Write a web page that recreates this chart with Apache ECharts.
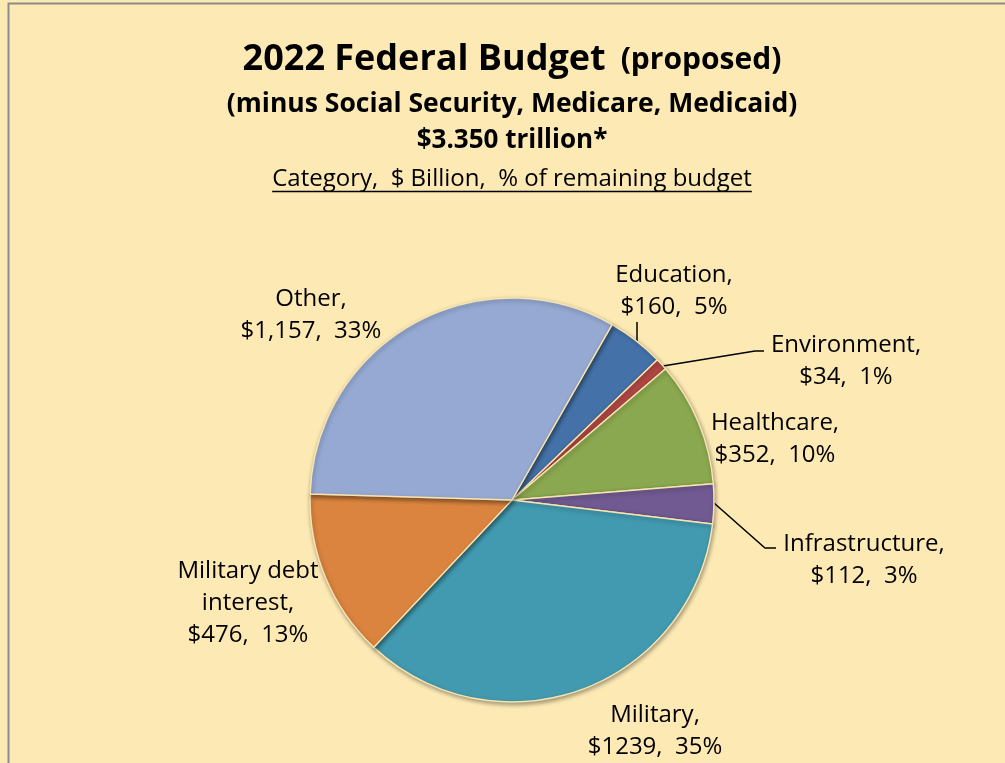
<!DOCTYPE html>
<html><head><meta charset="utf-8">
<script src="https://cdn.jsdelivr.net/npm/echarts@6/dist/echarts.min.js"></script>
<style>html,body{margin:0;padding:0;background:#FDE9B4;}#c{width:1005px;height:763px;}</style>
</head><body><div id="c"></div>
<script>
const categories = ["Education","Environment","Healthcare","Infrastructure","Military","Military debt interest","Other"];
const values = [160, 34, 352, 112, 1239, 476, 1157];
const valueText = ["$160","$34","$352","$112","$1239","$476","$1,157"];
const percents = [5, 1, 10, 3, 35, 13, 33];
const labelNames = ["Education","Environment","Healthcare","Infrastructure","Military","Military debt\ninterest","Other"];
const colors = ["#4472A8","#B04744","#8AA84F","#715A92","#429AB0","#DA843F","#95A9D3"];

const FONT = "Open Sans";
const labelPos = [
  {x:674,y:291,line:[[637,341],[637,332],[637,322]]},
  {x:846,y:361,line:[[663,366],[755,351],[764,351]]},
  {x:775,y:439},
  {x:864,y:560,line:[[714,503],[765,548],[776,548]]},
  {x:655,y:731},
  {x:248,y:603},
  {x:311,y:315}
];

const subText = 'Category,  $ Billion,  % of remaining budget';
const subFont = 'normal 24px "' + FONT + '"';
const cv = document.createElement('canvas').getContext('2d');
cv.font = subFont;
const subW = cv.measureText(subText).width;

const chart = echarts.init(document.getElementById('c'), null, {renderer:'canvas'});
chart.setOption({
  backgroundColor:'#FDE9B4',
  animation:false,
  graphic:[
    {type:'rect', shape:{x:8.5,y:3.5,width:1100,height:900}, style:{fill:null,stroke:'#8C8C8C',lineWidth:2}, silent:true},
    {type:'text', x:512, y:60, style:{text:'{a|2022 Federal Budget}{s| }{b|(proposed)}', align:'center', verticalAlign:'middle',
      rich:{a:{fontFamily:FONT,fontWeight:'bold',fontSize:36,fill:'#000'},s:{width:15,fontSize:20},b:{fontFamily:FONT,fontWeight:'bold',fontSize:30,fill:'#000'}}}, silent:true},
    {type:'text', x:512, y:104, style:{text:'(minus Social Security, Medicare, Medicaid)', align:'center', verticalAlign:'middle',
      fontFamily:FONT,fontWeight:'bold',fontSize:26.5,fill:'#000'}, silent:true},
    {type:'text', x:512, y:141, style:{text:'$3.350 trillion*', align:'center', verticalAlign:'middle',
      fontFamily:FONT,fontWeight:'bold',fontSize:26,fill:'#000'}, silent:true},
    {type:'text', x:512, y:179, style:{text:subText, align:'center', verticalAlign:'middle',
      fontFamily:FONT,fontWeight:'normal',fontSize:24,fill:'#000'}, silent:true},
    {type:'line', shape:{x1:512-subW/2,y1:191.5,x2:512+subW/2,y2:191.5}, style:{stroke:'#000',lineWidth:1.5}, silent:true}
  ],
  series:[{
    type:'pie',
    center:[512,500],
    radius:202,
    startAngle:60.3,
    clockwise:true,
    avoidLabelOverlap:false,
    itemStyle:{borderColor:'#F7E4B0',borderWidth:1.5,shadowBlur:4,shadowColor:'rgba(0,0,0,0.35)',shadowOffsetX:1,shadowOffsetY:2},
    label:{show:true,position:'outside',fontFamily:FONT,fontSize:24,lineHeight:32,color:'#000',align:'center',
      formatter:p=>`${labelNames[p.dataIndex]},\n${valueText[p.dataIndex]},  ${percents[p.dataIndex]}%`},
    labelLine:{show:true,lineStyle:{color:'#000',width:1.5}},
    labelLayout:function(p){
      const L = labelPos[p.dataIndex];
      const o = {x:L.x,y:L.y,align:'center',verticalAlign:'middle'};
      if (L.line) o.labelLinePoints = L.line;
      return o;
    },
    emphasis:{disabled:true},
    data: categories.map((c,i)=>({
      name:c, value:values[i],
      itemStyle:{color:colors[i]},
      labelLine:{show: !!labelPos[i].line}
    }))
  }]
});
</script></body></html>
